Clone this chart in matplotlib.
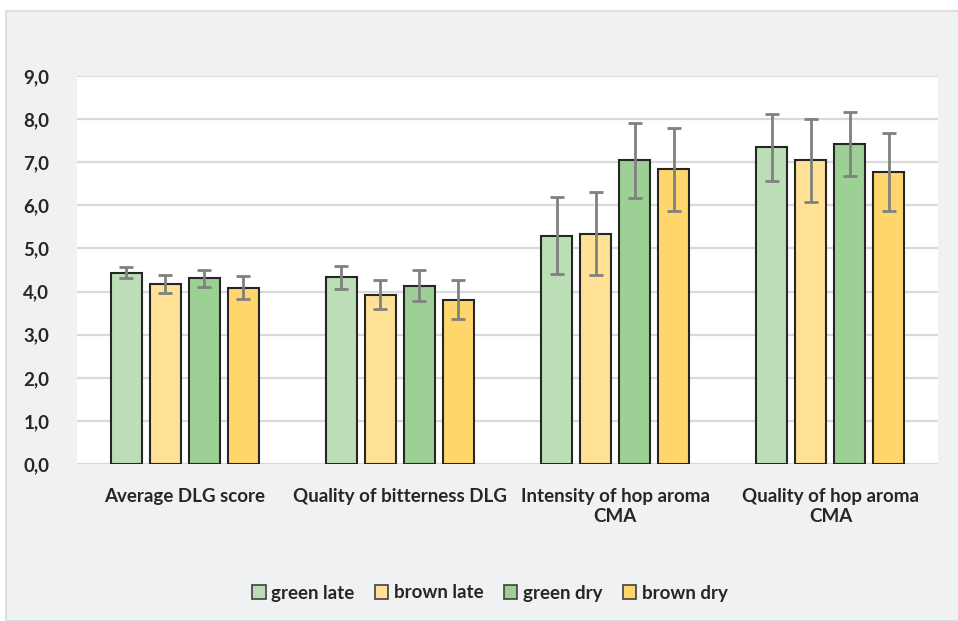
import matplotlib
matplotlib.use("Agg")
import matplotlib.pyplot as plt
from matplotlib.patches import Rectangle, Patch
import numpy as np

categories = ["Average DLG score", "Quality of bitterness DLG",
              "Intensity of hop aroma\nCMA", "Quality of hop aroma\nCMA"]
series = ["green late", "brown late", "green dry", "brown dry"]

green_late = [4.44, 4.33, 5.30, 7.35]
brown_late = [4.18, 3.93, 5.34, 7.04]
green_dry = [4.31, 4.14, 7.04, 7.43]
brown_dry = [4.09, 3.81, 6.84, 6.78]

green_late_err = [0.13, 0.27, 0.90, 0.78]
brown_late_err = [0.21, 0.33, 0.96, 0.97]
green_dry_err = [0.20, 0.36, 0.87, 0.74]
brown_dry_err = [0.27, 0.45, 0.96, 0.90]

y_ticks = [0, 1, 2, 3, 4, 5, 6, 7, 8, 9]
y_tick_labels = ["0,0", "1,0", "2,0", "3,0", "4,0", "5,0", "6,0", "7,0", "8,0", "9,0"]

values = [green_late, brown_late, green_dry, brown_dry]
errors = [green_late_err, brown_late_err, green_dry_err, brown_dry_err]
colors = ["#BBDEB7", "#FFE196", "#9DD094", "#FFD66C"]

plt.rcParams["font.family"] = ["Lato", "DejaVu Sans"]
plt.rcParams["font.weight"] = "bold"
text_color = "#262626"
fsize = 13.5

fig = plt.figure(figsize=(9.58, 6.21), dpi=100)
fig.patch.set_facecolor("white")
panel = Rectangle((6 / 958, 0), 1, 1 - 11 / 621, transform=fig.transFigure,
                  facecolor="#F0F1F3", edgecolor="#D9DADC", linewidth=1.2)
panel.set_zorder(-10)
fig.add_artist(panel)

ax = fig.add_axes([77 / 958, (621 - 464) / 621, 861 / 958, 388 / 621])
ax.set_zorder(1)
ax.set_facecolor("white")

x = np.arange(len(categories))
bar_w = 0.144
step = 0.181
for i, (vals, errs, col, name) in enumerate(zip(values, errors, colors, series)):
    pos = x + (i - 1.5) * step
    ax.bar(pos, vals, width=bar_w, color=col, edgecolor="#262626", linewidth=1.5,
           label=name, zorder=3)
    ax.errorbar(pos, vals, yerr=errs, fmt="none", ecolor="#808080", elinewidth=2,
                capsize=5, capthick=2, zorder=4)

ax.set_xlim(-0.5, len(categories) - 0.5)
ax.set_ylim(0, 9)
ax.set_yticks(y_ticks)
ax.set_yticklabels(y_tick_labels)
ax.set_xticks(x)
ax.set_xticklabels(categories, linespacing=1.25)
ax.yaxis.grid(True, color="#D9D9D9", linewidth=1.6, zorder=0)
ax.set_axisbelow(True)
for s in ax.spines.values():
    s.set_visible(False)
ax.tick_params(axis="both", length=0, labelsize=fsize, colors=text_color)
ax.tick_params(axis="y", pad=20)
ax.tick_params(axis="x", pad=17)
for lbl in ax.get_xticklabels() + ax.get_yticklabels():
    lbl.set_fontweight("bold")
    lbl.set_color(text_color)

handles = [Patch(facecolor=c, edgecolor="#404040", linewidth=1.2) for c in colors]
leg = fig.legend(handles, series, loc="center", bbox_to_anchor=(490 / 958, 1 - 593 / 621),
                 ncol=4, frameon=False, handlelength=0.7, handleheight=0.7,
                 handletextpad=0.3, columnspacing=1.1,
                 prop={"weight": "bold", "size": fsize})
for t in leg.get_texts():
    t.set_color(text_color)

fig.savefig("out.png", dpi=100, facecolor=fig.get_facecolor())
